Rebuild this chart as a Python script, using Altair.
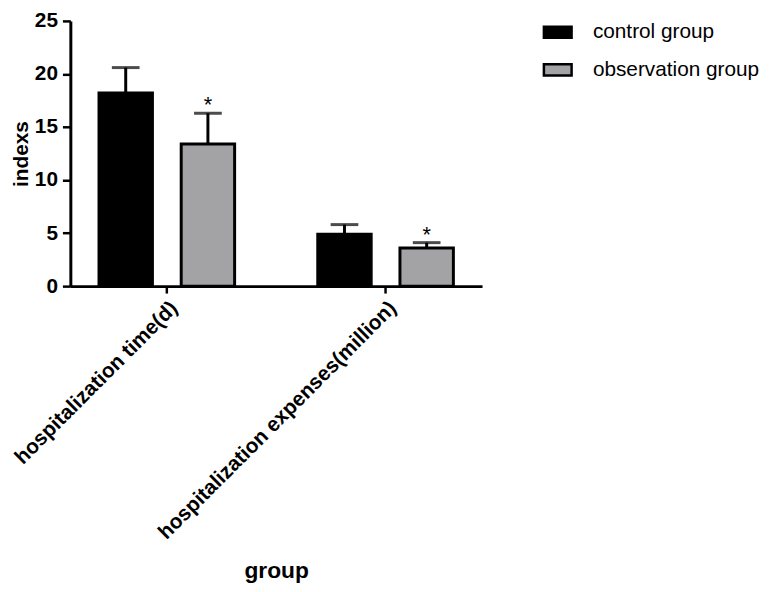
import altair as alt
import pandas as pd

categories = ["hospitalization time(d)", "hospitalization expenses(million)"]
groups = ["control group", "observation group"]
control_mean = [18.2, 4.9]
control_upper = [20.6, 5.8]
observation_mean = [13.4, 3.6]
observation_upper = [16.3, 4.1]
observation_sig = ["*", "*"]

rows = []
for i, c in enumerate(categories):
    rows.append({"category": c, "group": groups[0], "mean": control_mean[i],
                 "upper": control_upper[i], "sig": ""})
    rows.append({"category": c, "group": groups[1], "mean": observation_mean[i],
                 "upper": observation_upper[i], "sig": observation_sig[i]})
df = pd.DataFrame(rows)

FONT = "Liberation Sans"

x_enc = alt.X("category:N", sort=categories,
              scale=alt.Scale(paddingInner=0.38, paddingOuter=0.131),
              axis=alt.Axis(title="group", labelAngle=-45, labelFontSize=21,
                            labelFontWeight="bold", labelFont=FONT, labelColor="black",
                            labelPadding=4, labelLimit=0,
                            titleFontSize=23, titleFontWeight="bold", titleFont=FONT,
                            titleColor="black", titleY=294, titleBaseline="alphabetic",
                            domainColor="black", domainWidth=3, tickColor="black",
                            tickWidth=2.5, tickSize=7))
xo_enc = alt.XOffset("group:N", sort=groups,
                     scale=alt.Scale(paddingInner=0.35, paddingOuter=0))
y_scale = alt.Scale(domain=[0, 25], nice=False)

bars = alt.Chart(df).mark_bar(stroke="black", strokeWidth=3).encode(
    x=x_enc,
    xOffset=xo_enc,
    y=alt.Y("mean:Q", scale=y_scale,
            axis=alt.Axis(title="indexs", values=[0, 5, 10, 15, 20, 25], grid=False,
                          labelFontSize=21, labelFontWeight="bold", labelFont=FONT,
                          labelColor="black", labelPadding=5,
                          titleFontSize=21, titleFontWeight="bold", titleFont=FONT,
                          titleColor="black", titlePadding=3,
                          domainColor="black", domainWidth=3, tickColor="black",
                          tickWidth=2.5, tickSize=8)),
    fill=alt.Fill("group:N", sort=groups,
                  scale=alt.Scale(domain=groups, range=["#000000", "#a3a3a6"]),
                  legend=alt.Legend(title=None, orient="none", legendX=477, legendY=-4,
                                    symbolType="M-1,-0.4H1V0.4H-1Z", symbolSize=784,
                                    symbolStrokeColor="black", symbolStrokeWidth=2.5,
                                    labelFontSize=21, labelFont=FONT, labelColor="black",
                                    labelOffset=20, labelLimit=0, rowPadding=11,
                                    padding=0)),
)

err = alt.Chart(df).mark_rule(color="black", strokeWidth=3).encode(
    x=alt.X("category:N", sort=categories), xOffset=xo_enc,
    y=alt.Y("mean:Q", scale=y_scale), y2="upper:Q")

caps = alt.Chart(df).mark_tick(color="black", thickness=3, size=28).encode(
    x=alt.X("category:N", sort=categories), xOffset=xo_enc,
    y=alt.Y("upper:Q", scale=y_scale))

stars = alt.Chart(df).mark_text(font=FONT, fontSize=22, color="black",
                                baseline="alphabetic", dy=-1).encode(
    x=alt.X("category:N", sort=categories), xOffset=xo_enc,
    y=alt.Y("upper:Q", scale=y_scale), text="sig:N")

chart = alt.layer(bars, err, caps, stars).properties(
    width=416, height=268,
    autosize=alt.AutoSizeParams(type="none"),
    padding={"left": 63, "top": 10, "right": 293, "bottom": 304},
).configure_view(stroke=None)

chart.save("out.html", embed_options={"renderer": "svg", "actions": False})
